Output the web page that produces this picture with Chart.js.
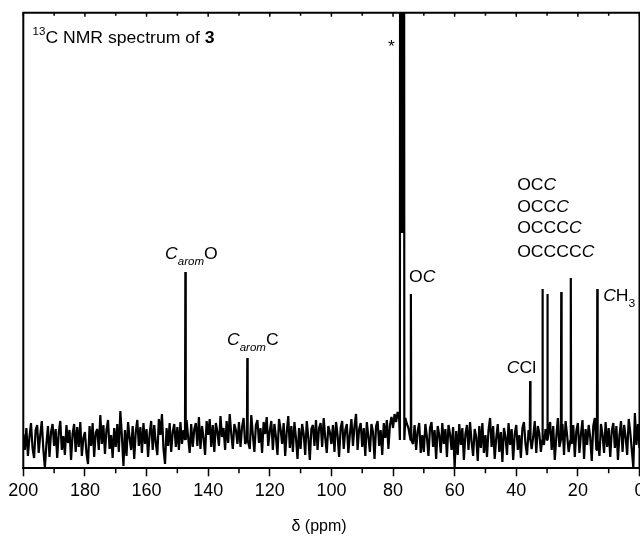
<!DOCTYPE html>
<html>
<head>
<meta charset="utf-8">
<script src="https://cdn.jsdelivr.net/npm/chart.js@4.4.1/dist/chart.umd.min.js"></script>
<style>
  html, body { margin: 0; padding: 0; background: #fff; overflow: hidden; }
  #wrap { width: 662px; height: 537px; position: relative; }
</style>
</head>
<body>
<div id="wrap"><canvas id="c" width="662" height="537"></canvas></div>
<script>
// Baseline trace, sampled every 0.5 ppm from 200 ppm down to 0 ppm
const shiftStart = 200;
const shiftStep = 0.5;
const baseline = [
  6,-10,12,-16,3,17,-8,-18,10,15,-13,5,19,-9,-28,-4,14,-17,8,16,
  -6,11,-18,7,19,-10,4,-15,15,-3,10,-20,6,16,-12,13,-7,18,-16,2,
  8,-13,-24,14,-6,17,-17,7,11,-10,25,-4,15,-14,10,20,-9,5,-18,12,
  -7,16,-12,29,4,-26,10,-16,18,2,-10,14,-19,8,20,-6,13,-13,17,-4,
  11,-17,6,19,-10,15,-3,-15,21,5,26,-9,-24,12,-6,17,-12,8,16,-7,
  13,-10,18,-4,10,-16,20,3,-13,16,-7,11,17,-6,23,-9,14,2,-15,19,
  5,21,-7,15,-12,17,8,-6,24,3,12,-10,19,-3,26,6,-9,16,10,-4,
  18,-7,13,22,-4,10,17,-9,25,5,-12,15,20,-3,12,-13,18,6,23,-6,
  9,19,-10,16,3,-15,21,11,-4,17,-16,8,24,-8,14,-12,18,2,-19,12,
  -9,16,6,-15,19,3,-20,11,15,-6,20,-10,12,17,-7,22,2,-13,14,8,
  -4,15,-12,18,5,-17,12,19,-9,10,16,-13,6,21,-6,14,26,-10,11,17,
  -7,12,-16,18,3,-12,16,8,-19,14,19,-6,10,-15,17,2,20,-9,15,23,
  12,26,18,28,21,32,25,30,22,16,12,19,6,-4,15,-10,9,17,-13,5,
  -12,16,3,-16,12,18,-7,10,-19,14,5,-13,17,-4,11,-17,15,6,-10,13,
  -28,9,-15,16,-5,12,-20,6,15,-10,18,-2,-16,11,3,-21,14,-8,17,-13,
  5,-17,10,22,-7,14,-19,2,16,-12,8,-22,12,3,-15,17,-5,11,-20,6,
  15,-10,5,-18,12,18,-4,-15,10,16,-9,3,19,-13,14,6,-12,17,-5,11,
  -16,8,18,-10,14,-20,3,22,-7,12,16,-15,19,5,-12,24,-4,15,-17,9,
  17,-13,6,20,-19,11,-5,15,3,-21,14,22,-10,8,-16,16,5,-13,18,-7,
  12,-17,9,17,-8,14,-20,5,19,-12,15,3,-15,21,8,-10,-28,27,-5,16,
  -8
];

// Single resonances (ppm, intensity)
const peakShifts  = [147.4, 127.3, 74.2, 35.5, 31.5, 29.9, 25.4, 22.3, 13.7];
const peakHeights = [168,   82,    146,  59,   151,  146,  148,  162,  151];

// Solvent multiplet (CDCl3), off scale
const solventShifts  = [77.65, 77.05, 76.45];
const solventHeights = [1000,  207,   1000];

// Axis tick values and their labels
const tickValues = [200, 180, 160, 140, 120, 100, 80, 60, 40, 20, 0];
const tickLabels = ['200', '180', '160', '140', '120', '100', '80', '60', '40', '20', '0'];

const FONT = '"Liberation Sans", Arial, sans-serif';
const FOOT = 0.12;

// Build the spectrum trace: baseline samples with the resonances spliced in
function buildTrace() {
  const all = peakShifts.concat(solventShifts);
  const pts = [];
  baseline.forEach((v, i) => {
    const p = shiftStart - i * shiftStep;
    if (!all.some(s => Math.abs(s - p) < 0.3)) pts.push({ x: p, y: v });
  });
  peakShifts.forEach((s, k) => {
    pts.push({ x: s + FOOT, y: 0 });
    pts.push({ x: s, y: peakHeights[k] });
    pts.push({ x: s - FOOT, y: 0 });
  });
  pts.push({ x: solventShifts[0] + FOOT, y: 0 });
  solventShifts.forEach((s, k) => pts.push({ x: s, y: solventHeights[k] }));
  pts.push({ x: solventShifts[solventShifts.length - 1] - FOOT, y: 0 });
  pts.sort((a, b) => b.x - a.x);
  return pts;
}

// Text run styles: font, vertical offset
const STY = {
  n:    { font: '16px ' + FONT, dy: 0 },
  i:    { font: 'italic 16px ' + FONT, dy: 0 },
  b:    { font: 'bold 16px ' + FONT, dy: 0 },
  isub: { font: 'italic 10.5px ' + FONT, dy: 6 },
  sub:  { font: '11px ' + FONT, dy: 6 },
  sup:  { font: '10.5px ' + FONT, dy: -8 }
};
const STRETCH = 1.1;

// Annotations anchored in data space: [ppm, intensity] = left edge, baseline
const annotations = [
  { at: [197.0, 397], runs: [['13', 'sup'], ['C NMR spectrum of ', 'n'], ['3', 'b']] },
  { at: [81.6, 388],  runs: [['*', 'n']] },
  { at: [154.0, 181], runs: [['C', 'i'], ['arom', 'isub'], ['O', 'n']] },
  { at: [133.9, 95],  runs: [['C', 'i'], ['arom', 'isub'], ['C', 'n']] },
  { at: [74.8, 158],  runs: [['O', 'n'], ['C', 'i']] },
  { at: [43.1, 67],   runs: [['C', 'i'], ['Cl', 'n']] },
  { at: [39.7, 250],  runs: [['OC', 'n'], ['C', 'i']] },
  { at: [39.7, 228],  runs: [['OCC', 'n'], ['C', 'i']] },
  { at: [39.7, 207],  runs: [['OCCC', 'n'], ['C', 'i']] },
  { at: [39.7, 183],  runs: [['OCCCC', 'n'], ['C', 'i']] },
  { at: [11.8, 139],  runs: [['C', 'i'], ['H', 'n'], ['3', 'sub']] }
];

function drawRuns(ctx, x, y, runs, stretch) {
  ctx.save();
  ctx.translate(x, y);
  ctx.scale(stretch, 1);
  ctx.fillStyle = '#000';
  ctx.textBaseline = 'alphabetic';
  ctx.textAlign = 'left';
  let cx = 0;
  for (const [t, s] of runs) {
    const st = STY[s];
    ctx.font = st.font;
    ctx.fillText(t, cx, st.dy);
    cx += ctx.measureText(t).width;
  }
  ctx.restore();
}

// Frame, minor ticks, axis title and peak labels
const spectrumDecor = {
  id: 'spectrumDecor',
  afterDraw(chart) {
    const { ctx, chartArea: a, scales: { x, y } } = chart;
    ctx.save();
    ctx.strokeStyle = '#000';
    ctx.lineWidth = 2;
    ctx.beginPath();
    ctx.moveTo(a.left, a.bottom);
    ctx.lineTo(a.left, a.top);
    ctx.lineTo(a.right, a.top);
    ctx.lineTo(a.right, a.bottom);
    ctx.stroke();
    ctx.lineWidth = 1.5;
    ctx.beginPath();
    for (let v = 0; v <= 200; v += 10) {
      const px = x.getPixelForValue(v);
      if (v % 20 !== 0) {
        ctx.moveTo(px, a.bottom);
        ctx.lineTo(px, a.bottom + 5);
      }
      ctx.moveTo(px, a.top);
      ctx.lineTo(px, a.top + (v % 20 === 0 ? 4 : 3));
    }
    ctx.stroke();
    ctx.restore();

    for (const an of annotations) {
      drawRuns(ctx, x.getPixelForValue(an.at[0]), y.getPixelForValue(an.at[1]), an.runs, STRETCH);
    }

    ctx.save();
    ctx.fillStyle = '#000';
    ctx.font = '16px ' + FONT;
    ctx.textAlign = 'center';
    ctx.textBaseline = 'alphabetic';
    ctx.fillText('δ (ppm)', x.getPixelForValue(104), 531);
    ctx.restore();
  }
};

new Chart(document.getElementById('c'), {
  type: 'line',
  data: {
    datasets: [{
      data: buildTrace(),
      borderColor: '#000',
      borderWidth: 2.2,
      borderJoinStyle: 'bevel',
      pointRadius: 0,
      tension: 0,
      fill: false
    }]
  },
  options: {
    responsive: false,
    animation: false,
    devicePixelRatio: 1,
    parsing: false,
    layout: { padding: { left: 23.3, right: 22.5, top: 12.7, bottom: 0 } },
    plugins: { legend: { display: false }, tooltip: { enabled: false } },
    scales: {
      x: {
        type: 'linear',
        reverse: true,
        min: 0,
        max: 200,
        afterBuildTicks: s => { s.ticks = tickValues.map(v => ({ value: v })); },
        afterFit: s => { s.height = 537 - 468.3; },
        ticks: {
          callback: v => tickLabels[tickValues.indexOf(v)],
          font: { family: FONT, size: 18 },
          color: '#000',
          padding: 4,
          maxRotation: 0,
          autoSkip: false
        },
        grid: {
          display: true,
          drawOnChartArea: false,
          drawTicks: true,
          tickLength: 8,
          tickWidth: 1.5,
          tickColor: '#000'
        },
        border: { display: true, color: '#000', width: 2 }
      },
      y: { display: false, min: -28.3, max: 427.3 }
    }
  },
  plugins: [spectrumDecor]
});
</script>
</body>
</html>
